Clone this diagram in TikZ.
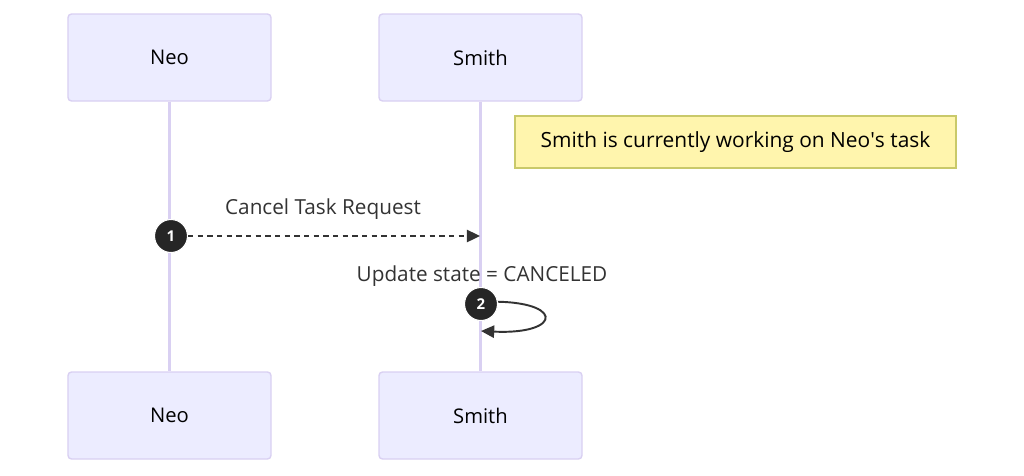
\documentclass[tikz,border=0pt]{standalone}
\usepackage{fontspec}
\setmainfont{Open Sans}
\usepackage{tikz}
\usetikzlibrary{arrows.meta,positioning}
\usepackage{xcolor}
\definecolor{actfill}{HTML}{ECECFF}
\definecolor{actline}{HTML}{D9D0F2}
\definecolor{notefill}{HTML}{FFF5AD}
\definecolor{noteline}{HTML}{C9C96A}
\definecolor{msgtext}{HTML}{333333}

\begin{document}
\begin{tikzpicture}[
    x=0.2mm, y=-0.2mm,
    actor/.style={draw=actline, fill=actfill, line width=0.8pt, rounded corners=2pt,
      minimum width=4.06cm, minimum height=1.74cm, font=\fontsize{11.5}{13}\selectfont},
    life/.style={draw=actline, line width=1.3pt},
    note/.style={draw=noteline, fill=notefill, line width=0.7pt,
      minimum width=8.82cm, minimum height=1.04cm, font=\fontsize{11.9}{13}\selectfont},
    num/.style={circle, fill=black!85, draw=white, line width=0.6pt, minimum size=6.6mm,
      inner sep=0pt, text=white, font=\fontsize{8.5}{9}\selectfont\bfseries},
    lbl/.style={text=msgtext, font=\fontsize{11.8}{13}\selectfont},
    msg/.style={draw=msgtext, line width=1.1pt, -{Triangle[length=7.5pt,width=7pt]}},
  ]
  \useasboundingbox (0,0) rectangle (1024,475);
  % actors
  \node[actor] (neoT)   at (169.5,57.5)  {Neo};
  \node[actor] (smithT) at (480.5,57.5)  {Smith};
  \node[actor] (neoB)   at (169.5,415.5) {Neo};
  \node[actor] (smithB) at (480.5,415.5) {Smith};
  \draw[life] (neoT) -- (neoB);
  \draw[life] (smithT) -- (smithB);
  % note
  \node[note] (nt) at (735.5,142) {Smith is currently working on Neo\textquotesingle s task};
  % message 1
  \node[num] (n1) at (171,236) {1};
  \coordinate (m1) at (480,236);
  \node[lbl] (l1) at (323,209) {Cancel Task Request};
  \draw[msg, dash pattern=on 3pt off 2.5pt] (n1) -- (m1);
  % message 2
  \coordinate (m2a) at (481,302);
  \coordinate (m2b) at (481,331);
  \node[lbl] (l2) at (482,276) {Update state = CANCELED};
  \draw[msg] (m2a) .. controls (565,298) and (565,335) .. (m2b);
  \node[num] (n2) at (481,304) {2};
\end{tikzpicture}
\end{document}
